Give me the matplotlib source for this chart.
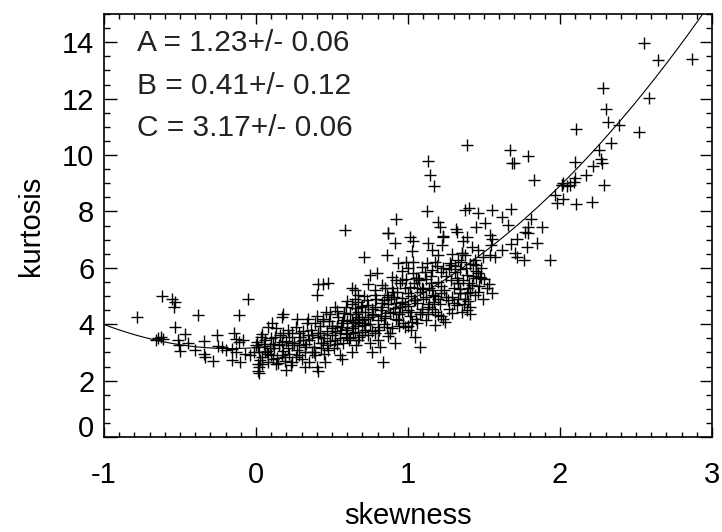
import matplotlib
matplotlib.use("Agg")
import matplotlib.pyplot as plt
import numpy as np

plt.rcParams['font.family'] = ['Liberation Sans', 'DejaVu Sans']

# fit parameters shown on the chart
fit_A, fit_B, fit_C = 1.23, 0.41, 3.17
fit_labels = ["A = 1.23+/- 0.06", "B = 0.41+/- 0.12", "C = 3.17+/- 0.06"]

x_ticks = [-1, 0, 1, 2, 3]
y_ticks = [0, 2, 4, 6, 8, 10, 12, 14]

# points (skewness, kurtosis)
pts_left = [
    (-0.62, 5.00), (-0.555, 4.88), (-0.533, 4.80), (-0.54, 4.60), (-0.055, 4.90),
    (-0.78, 4.24), (-0.38, 4.32), (-0.11, 4.34), (-0.53, 3.91), (-0.467, 3.65),
    (-0.643, 3.50), (-0.625, 3.56), (-0.61, 3.48), (-0.66, 3.44), (-0.515, 3.44),
    (-0.45, 3.34), (-0.507, 3.26), (-0.498, 3.06), (-0.344, 3.40), (-0.257, 3.61),
    (-0.248, 3.23), (-0.40, 3.09), (-0.344, 2.94), (-0.336, 2.85), (-0.28, 2.71),
    (-0.20, 3.09), (-0.226, 3.18), (-0.147, 3.70), (-0.134, 3.46), (-0.112, 3.38),
    (-0.083, 3.44), (-0.156, 3.13), (-0.134, 3.01), (-0.156, 2.73), (-0.105, 2.67),
    (-0.072, 2.94), (-0.04, 2.90), (-0.015, 3.01), (-0.002, 3.25), (0.007, 3.38),
    (0.015, 2.59), (0.015, 2.35),
]
pts_low = [
    (0.406, 5.43), (0.443, 5.43), (0.472, 5.45), (0.63, 5.27), (0.40, 5.04),
    (0.60, 4.83), (0.18, 4.35), (0.169, 4.27), (0.268, 4.17), (0.107, 4.05),
    (0.081, 3.91), (0.334, 4.05), (0.388, 4.03), (0.443, 4.11), (0.53, 4.48),
    (0.58, 4.39), (0.65, 4.56), (0.695, 4.65), (0.21, 3.79), (0.28, 3.68),
    (0.037, 3.65), (0.125, 3.56), (0.344, 3.62), (0.41, 3.68), (0.50, 3.85),
    (0.564, 4.03), (0.63, 4.15), (0.673, 4.27), (0.169, 3.38), (0.235, 3.26),
    (0.32, 3.20), (0.43, 3.32), (0.52, 3.44), (0.597, 3.56), (0.65, 3.73),
    (0.015, 3.20), (0.06, 3.02), (0.10, 2.91), (0.19, 2.85), (0.28, 2.91),
    (0.366, 3.02), (0.475, 3.09), (0.55, 2.91), (0.63, 3.02), (0.026, 2.73),
    (0.08, 2.67), (0.147, 2.61), (0.235, 2.67), (0.564, 2.75), (0.32, 2.47),
    (0.40, 2.49), (0.454, 2.67), (0.20, 2.38), (0.406, 2.35), (0.02, 2.47),
    (0.02, 2.26), (0.586, 7.34),
    (0.05, 3.30), (0.08, 2.95), (0.12, 3.15), (0.14, 2.80), (0.18, 3.05),
    (0.22, 2.95), (0.25, 3.35), (0.27, 3.10), (0.30, 2.75), (0.04, 2.85),
    (0.10, 3.50), (0.16, 3.60), (0.20, 3.40), (0.24, 3.70), (0.07, 3.05),
    (0.13, 2.60), (0.29, 3.55), (0.33, 3.30), (0.03, 3.55), (0.19, 2.70),
    (0.32, 3.00), (0.35, 3.45), (0.38, 3.20), (0.41, 3.55), (0.44, 3.35),
    (0.47, 3.75), (0.50, 3.60), (0.53, 3.30), (0.56, 3.90), (0.59, 3.65),
    (0.36, 3.80), (0.42, 3.95), (0.48, 4.10), (0.54, 4.25), (0.58, 4.40),
    (0.39, 2.90), (0.45, 2.95), (0.51, 3.15), (0.57, 3.35), (0.62, 3.50),
    (0.34, 4.20), (0.40, 4.30), (0.46, 4.45), (0.52, 4.60), (0.60, 4.10),
    (0.63, 3.85), (0.37, 3.60), (0.55, 3.70), (0.49, 3.40), (0.43, 3.15),
    (0.06, 3.45), (0.09, 3.15), (0.11, 2.75), (0.15, 3.25), (0.17, 2.90),
    (0.21, 3.15), (0.23, 2.55), (0.26, 2.85), (0.28, 3.25), (0.31, 3.45),
    (0.02, 3.00), (0.13, 3.85), (0.18, 3.70), (0.26, 3.90), (0.31, 3.75),
    (0.35, 2.65), (0.38, 3.00), (0.11, 3.30), (0.22, 3.55), (0.04, 2.60),
    (0.42, 3.70), (0.45, 3.50), (0.47, 3.25), (0.50, 3.95), (0.52, 3.75),
    (0.55, 3.50), (0.57, 4.15), (0.60, 3.80), (0.62, 4.35), (0.64, 4.05),
    (0.44, 4.20), (0.49, 4.35), (0.53, 3.95), (0.59, 4.60), (0.63, 4.70),
]
pts_mid = [
    (0.87, 7.22), (1.013, 7.08), (1.035, 6.96), (0.914, 6.87), (1.13, 6.89),
    (1.23, 7.13), (1.226, 6.81), (1.32, 7.28), (1.024, 6.61), (1.16, 6.63),
    (0.713, 6.39), (0.86, 6.45), (1.20, 6.45), (1.287, 6.49), (1.353, 6.51),
    (0.936, 6.18), (0.99, 6.22), (1.035, 6.22), (1.123, 6.16), (1.178, 6.19),
    (1.276, 6.16), (1.31, 6.06), (1.00, 5.98), (1.09, 6.04), (1.156, 5.92),
    (1.22, 5.86), (0.794, 5.83), (0.75, 5.74), (0.893, 5.68), (0.958, 5.57),
    (1.068, 5.63), (1.33, 5.45), (0.739, 5.43), (0.827, 5.39), (0.893, 5.27),
    (1.013, 5.33), (1.09, 5.27), (1.166, 5.04), (1.22, 5.10), (1.287, 4.98),
    (1.34, 5.10), (0.65, 5.21), (0.78, 5.04), (0.87, 4.98), (0.958, 4.92),
    (1.046, 4.86), (0.673, 4.80), (0.739, 4.68), (0.827, 4.62), (0.914, 4.56),
    (1.00, 4.50), (1.09, 4.44), (1.134, 4.62), (1.20, 4.33), (1.233, 4.17),
    (0.673, 4.44), (0.76, 4.33), (0.85, 4.21), (0.936, 4.15), (1.024, 4.09),
    (0.65, 4.09), (0.717, 3.97), (0.805, 3.91), (0.893, 3.85), (0.98, 3.91),
    (1.057, 4.03), (1.178, 3.97), (1.243, 4.09), (0.695, 3.73), (0.78, 3.68),
    (0.87, 3.58), (1.046, 3.56), (0.673, 3.44), (0.75, 3.32), (0.816, 3.20),
    (0.914, 3.32), (1.08, 3.20), (0.76, 3.02), (0.838, 2.67),
    (0.61, 3.45), (0.64, 3.70), (0.67, 3.95), (0.70, 4.20), (0.72, 3.80),
    (0.75, 4.00), (0.77, 4.35), (0.80, 4.15), (0.82, 4.50), (0.85, 4.30),
    (0.87, 4.70), (0.90, 4.45), (0.66, 4.35), (0.69, 4.60), (0.73, 4.85),
    (0.76, 4.55), (0.79, 4.90), (0.83, 4.75), (0.86, 5.05), (0.89, 4.90),
    (0.68, 3.55), (0.74, 3.60), (0.81, 3.80), (0.84, 4.00), (0.88, 3.70),
    (0.71, 5.00), (0.78, 5.20), (0.65, 4.90), (0.92, 4.20), (0.95, 4.60),
    (0.91, 4.95), (0.93, 5.15), (0.96, 4.80), (0.98, 5.30), (1.00, 4.65),
    (1.02, 5.00), (1.04, 5.45), (1.06, 4.75), (1.08, 5.15), (1.10, 4.90),
    (1.12, 5.60), (1.14, 5.30), (1.16, 4.55), (1.18, 5.00), (1.20, 5.50),
    (0.94, 4.35), (0.97, 4.05), (1.01, 4.30), (1.05, 4.20), (1.09, 4.55),
    (1.13, 4.35), (1.17, 4.80), (0.99, 5.60), (1.03, 5.80), (1.07, 5.55),
    (1.11, 5.85), (1.15, 5.70), (1.19, 6.05), (0.92, 5.55), (0.96, 5.90),
    (1.00, 3.95), (1.12, 4.15),
    (0.66, 3.25), (0.68, 4.15), (0.70, 3.60), (0.72, 4.45), (0.74, 4.25),
    (0.76, 3.75), (0.78, 4.60), (0.80, 3.45), (0.67, 5.05), (0.71, 4.05),
    (0.82, 4.30), (0.84, 4.85), (0.86, 3.90), (0.88, 4.40), (0.90, 5.15),
    (0.92, 4.75), (0.94, 3.95), (0.96, 4.45), (0.98, 4.70), (1.00, 5.10),
    (1.02, 4.45), (1.04, 4.85), (1.06, 5.30), (1.08, 4.35), (1.10, 5.25),
    (1.12, 4.95), (1.14, 4.70), (1.16, 5.20), (1.18, 4.45), (1.20, 4.90),
    (0.85, 5.30), (0.95, 5.45), (1.05, 5.65), (1.15, 5.45), (1.02, 3.80),
]
pts_upper = [
    (1.13, 9.80), (1.145, 9.29), (1.17, 8.90), (1.123, 8.03), (0.92, 7.72),
    (1.195, 7.63), (1.21, 7.46), (1.316, 7.36), (0.866, 7.22), (1.232, 7.10),
    (1.39, 10.35), (1.375, 8.05), (1.67, 10.18), (1.787, 9.96), (1.686, 9.70),
    (1.70, 9.73), (1.827, 9.11), (2.015, 8.94), (1.967, 8.58), (2.02, 8.43),
    (1.978, 8.31), (1.40, 8.11), (1.458, 7.93), (1.55, 8.05), (1.678, 8.07),
    (1.62, 7.81), (1.81, 7.72), (1.507, 7.58), (1.445, 7.44), (1.656, 7.52),
    (1.884, 7.46), (1.787, 7.44), (1.77, 7.28), (1.79, 7.22), (1.54, 7.16),
    (1.55, 7.01), (1.386, 7.08), (1.715, 7.01), (1.847, 6.87), (1.68, 6.84),
    (1.785, 6.73), (1.546, 6.81), (1.364, 6.96), (1.42, 6.75), (1.353, 6.54),
    (1.375, 6.45), (1.46, 6.63), (1.616, 6.63), (1.704, 6.54), (1.715, 6.39),
    (1.54, 6.45), (1.572, 6.39), (1.44, 6.28), (1.43, 6.13), (1.45, 6.10),
    (1.495, 6.39), (1.33, 6.28), (1.765, 6.28), (1.934, 6.28),
    (1.46, 5.80), (1.474, 5.68), (1.45, 5.63), (1.33, 5.45), (1.53, 5.43),
    (1.52, 5.27), (1.55, 5.10), (1.397, 5.27), (1.41, 5.15), (1.386, 5.10),
    (1.342, 5.10), (1.375, 4.88), (1.397, 4.83), (1.495, 4.88), (1.32, 4.68),
    (1.353, 4.44), (1.386, 4.50), (1.41, 4.36),
    (1.21, 4.70), (1.24, 5.20), (1.27, 4.55), (1.30, 5.30), (1.33, 4.90),
    (1.36, 5.55), (1.39, 5.75), (1.42, 5.40), (1.45, 5.90), (1.48, 6.00),
    (1.25, 5.70), (1.28, 6.10), (1.31, 5.85), (1.35, 6.20), (1.38, 6.00),
    (1.22, 4.30), (1.26, 4.85), (1.29, 4.40), (1.44, 5.05), (1.47, 5.35),
    (1.50, 5.60), (1.41, 4.60),
    (1.22, 5.35), (1.25, 4.95), (1.28, 5.55), (1.30, 4.75), (1.32, 5.65),
    (1.34, 5.25), (1.37, 4.70), (1.40, 5.45), (1.43, 5.70), (1.46, 5.15),
    (1.48, 5.65), (1.27, 5.95), (1.34, 5.95), (1.41, 6.15), (1.23, 6.00),
]
pts_right = [
    (2.553, 13.97), (2.645, 13.37), (2.868, 13.39), (2.28, 12.37), (2.588, 12.01),
    (2.30, 11.62), (2.313, 11.18), (2.39, 11.06), (2.103, 10.91), (2.52, 10.83),
    (2.333, 10.44), (2.259, 10.18), (2.268, 9.85), (2.099, 9.75), (2.22, 9.61),
    (2.274, 9.70), (2.171, 9.29), (2.099, 9.17), (2.092, 9.05), (2.022, 9.00),
    (2.011, 8.94), (2.044, 8.90), (2.066, 8.94), (2.29, 8.94), (2.105, 8.26),
    (2.21, 8.34),
]

groups = [pts_left, pts_low, pts_mid, pts_upper, pts_right]
skewness = np.array([p[0] for g in groups for p in g])
kurtosis = np.array([p[1] for g in groups for p in g])

fig = plt.figure(figsize=(7.22, 5.32), dpi=100)
ax = fig.add_axes([104/722, 1 - 437/532, (712-104)/722, (437-14)/532])

ax.plot(skewness, kurtosis, linestyle='none', marker='+', color='black',
        markersize=8.5, markeredgewidth=1.0)

xc = np.linspace(-1, 3, 500)
ax.plot(xc, fit_A * xc**2 + fit_B * xc + fit_C, color='black', linewidth=0.8)

ax.set_xlim(-1, 3)
ax.set_ylim(0, 15)
ax.set_xticks(x_ticks)
ax.set_xticklabels([str(t) for t in x_ticks])
ax.set_yticks(y_ticks)
ax.set_yticklabels([str(t) for t in y_ticks])
ax.set_xticks(np.arange(-1, 3.001, 0.1), minor=True)
ax.set_yticks(np.arange(0, 15.001, 0.5), minor=True)

ax.tick_params(axis='both', which='both', direction='in', top=True, right=True,
               labelsize=21, colors='black', width=1.0)
ax.tick_params(axis='x', which='major', length=7, pad=17)
ax.tick_params(axis='x', which='minor', length=3.5)
ax.tick_params(axis='y', which='major', length=9, pad=7)
ax.tick_params(axis='y', which='minor', length=4.5)
for s in ax.spines.values():
    s.set_linewidth(1.2)

ax.yaxis.get_major_ticks()[0].label1.set_verticalalignment('baseline')

ax.set_xlabel('skewness', fontsize=21, labelpad=10)
ax.set_ylabel('kurtosis', fontsize=21, labelpad=12)

for i, t in enumerate(fit_labels):
    ax.text(137/722, 1 - (43 + 42.5*i)/532, t, transform=fig.transFigure,
            fontsize=21.5, va='center', ha='left', color='#222222')

fig.savefig('out.png', dpi=100)
